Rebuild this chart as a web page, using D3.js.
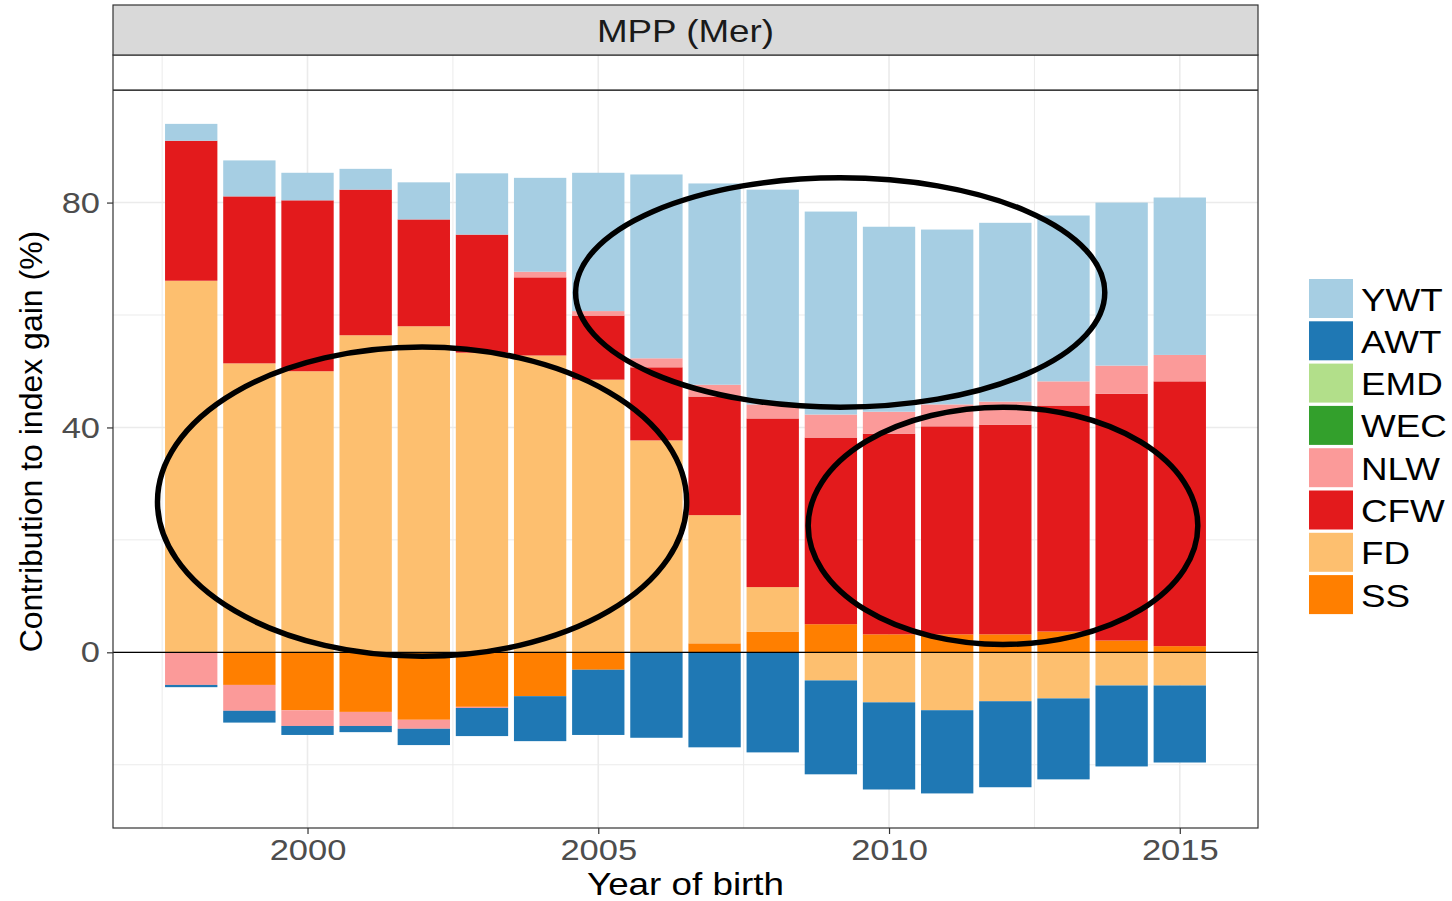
<!DOCTYPE html>
<html>
<head>
<meta charset="utf-8">
<script src="https://cdn.jsdelivr.net/npm/d3@7"></script>
<style>
  body { margin: 0; background: #fff; }
  text { font-family: "Liberation Sans", Arial, sans-serif; }
</style>
</head>
<body>
<svg id="chart" width="1452" height="901"></svg>
<script>
// data (contribution to index gain, %)
const years = [1998, 1999, 2000, 2001, 2002, 2003, 2004, 2005, 2006, 2007, 2008, 2009, 2010, 2011, 2012, 2013, 2014, 2015]
const traits = ["YWT", "AWT", "EMD", "WEC", "NLW", "CFW", "FD", "SS"]
const YWT = [3.0, 6.4, 4.9, 3.7, 6.6, 10.9, 16.7, 24.6, 32.7, 35.8, 38.2, 36.1, 32.9, 31.1, 31.8, 29.5, 29.0, 28.0]
const AWT = [-0.4, -2.1, -1.6, -1.1, -2.9, -5.0, -8.0, -11.6, -15.2, -16.9, -17.8, -16.7, -15.5, -14.8, -15.3, -14.4, -14.4, -13.7]
const EMD = [0, 0, 0, 0, 0, 0, 0, 0, 0, 0, 0, 0, 0, 0, 0, 0, 0, 0]
const WEC = [0, 0, 0, 0, 0, 0, 0, 0, 0, 0, 0, 0, 0, 0, 0, 0, 0, 0]
const NLW = [-5.8, -4.6, -2.8, -2.5, -1.6, -0.2, 1.0, 0.8, 1.6, 2.1, 2.5, 4.1, 3.9, 3.9, 4.1, 4.3, 5.0, 4.7]
const CFW = [24.9, 29.7, 30.4, 25.9, 19.0, 21.0, 13.9, 11.4, 13.0, 21.1, 30.0, 33.2, 35.7, 37.0, 37.3, 40.2, 43.9, 47.1]
const FD = [66.1, 51.4, 50.0, 56.4, 58.0, 53.3, 52.8, 48.5, 37.7, 22.8, 7.9, -5.0, -8.9, -10.3, -8.7, -8.2, -5.9, -5.9]
const SS = [0, -5.8, -10.3, -10.6, -12.0, -9.7, -7.8, -3.1, 0, 1.6, 3.7, 5.0, 3.2, 3.2, 3.2, 3.7, 2.1, 1.1]
const colors = ["#A6CEE3", "#1F78B4", "#B2DF8A", "#33A02C", "#FB9A99", "#E31A1C", "#FDBF6F", "#FF7F00"]
const xTicks = [2000, 2005, 2010, 2015]
const yTicks = [0, 40, 80]
const refLines = [0, 100]
// hand-drawn highlight ellipses: centre year, centre value, half width (years), half height (%)
const ellipses = [
    { cx: 2001.97, cy: 26.8, rx: 4.55, ry: 27.5 },
    { cx: 2009.16, cy: 64.0, rx: 4.55, ry: 20.4 },
    { cx: 2011.96, cy: 22.5, rx: 3.35, ry: 21.1 }
]

const series = { YWT, AWT, EMD, WEC, NLW, CFW, FD, SS }
const rows = years.map((yr, i) => {
    const r = { year: yr }
    traits.forEach(t => r[t] = series[t][i])
    return r
})

const svg = d3.select("#chart")
const pLeft = 113, pRight = 1258, pTop = 55, pBottom = 828
const stretch = 1.15  // the reference text is a bit wide

const x = d3.scaleLinear().domain([1996.655, 2016.345]).range([pLeft, pRight])
const y = d3.scaleLinear().domain([-31.25, 106.25]).range([pBottom, pTop])
const color = d3.scaleOrdinal().domain(traits).range(colors)

// grid
const grid = svg.append("g")
const minorX = [1997.5, 2002.5, 2007.5, 2012.5]
const minorY = [-20, 20, 60, 100]
grid.selectAll(".mx").data(minorX).enter().append("line")
    .attr("x1", d => x(d)).attr("x2", d => x(d)).attr("y1", pTop).attr("y2", pBottom)
    .attr("stroke", "#ebebeb").attr("stroke-width", 1)
grid.selectAll(".my").data(minorY).enter().append("line")
    .attr("y1", d => y(d)).attr("y2", d => y(d)).attr("x1", pLeft).attr("x2", pRight)
    .attr("stroke", "#ebebeb").attr("stroke-width", 1)
grid.selectAll(".Mx").data(xTicks).enter().append("line")
    .attr("x1", d => x(d)).attr("x2", d => x(d)).attr("y1", pTop).attr("y2", pBottom)
    .attr("stroke", "#ebebeb").attr("stroke-width", 1.6)
grid.selectAll(".My").data(yTicks).enter().append("line")
    .attr("y1", d => y(d)).attr("y2", d => y(d)).attr("x1", pLeft).attr("x2", pRight)
    .attr("stroke", "#ebebeb").attr("stroke-width", 1.6)

// stacked bars, SS nearest to zero, YWT furthest out
const stackKeys = traits.slice().reverse()
const stacked = d3.stack().keys(stackKeys).offset(d3.stackOffsetDiverging)(rows)
const bw = x(1998.45) - x(1997.55)

svg.append("g").selectAll("g")
    .data(stacked)
    .enter().append("g")
    .attr("fill", d => color(d.key))
    .selectAll("rect")
    .data(d => d)
    .enter().append("rect")
    .attr("x", d => x(d.data.year) - bw / 2)
    .attr("width", bw)
    .attr("y", d => y(Math.max(d[0], d[1])))
    .attr("height", d => Math.abs(y(d[0]) - y(d[1])))

// reference lines
svg.append("g").selectAll("line").data(refLines).enter().append("line")
    .attr("x1", pLeft).attr("x2", pRight)
    .attr("y1", d => y(d)).attr("y2", d => y(d))
    .attr("stroke", "#000").attr("stroke-width", 1.3)

// ellipses
svg.append("g").selectAll("ellipse").data(ellipses).enter().append("ellipse")
    .attr("cx", d => x(d.cx)).attr("cy", d => y(d.cy))
    .attr("rx", d => x(d.cx + d.rx) - x(d.cx))
    .attr("ry", d => y(d.cy - d.ry) - y(d.cy))
    .attr("fill", "none").attr("stroke", "#000").attr("stroke-width", 5.5)

// panel border
svg.append("rect")
    .attr("x", pLeft).attr("y", pTop).attr("width", pRight - pLeft).attr("height", pBottom - pTop)
    .attr("fill", "none").attr("stroke", "#333").attr("stroke-width", 1.2)

// facet strip
svg.append("rect")
    .attr("x", pLeft).attr("y", 5).attr("width", pRight - pLeft).attr("height", pTop - 5)
    .attr("fill", "#d9d9d9").attr("stroke", "#333").attr("stroke-width", 1.2)
svg.append("text")
    .attr("transform", `translate(${(pLeft + pRight) / 2},${30}) scale(${stretch},1)`)
    .attr("text-anchor", "middle").attr("dy", "0.36em")
    .attr("font-size", 32).attr("fill", "#1a1a1a")
    .text("MPP (Mer)")

// axes
const xAxis = svg.append("g")
    .attr("transform", `translate(0,${pBottom})`)
    .call(d3.axisBottom(x).tickValues(xTicks).tickFormat(d3.format("d")).tickSize(6).tickPadding(5))
xAxis.select(".domain").remove()
xAxis.selectAll(".tick line").attr("stroke", "#333").attr("stroke-width", 1.2)
xAxis.selectAll(".tick text")
    .attr("font-size", 30).attr("fill", "#4d4d4d")
    .attr("transform", `scale(${stretch},1)`)

const yAxis = svg.append("g")
    .attr("transform", `translate(${pLeft},0)`)
    .call(d3.axisLeft(y).tickValues(yTicks).tickSize(6).tickPadding(7))
yAxis.select(".domain").remove()
yAxis.selectAll(".tick line").attr("stroke", "#333").attr("stroke-width", 1.2)
yAxis.selectAll(".tick text")
    .attr("font-size", 30).attr("fill", "#4d4d4d")
    .attr("x", -13 / stretch)
    .attr("transform", `scale(${stretch},1)`)

// axis titles
svg.append("text")
    .attr("transform", `translate(${(pLeft + pRight) / 2},${884}) scale(${stretch},1)`)
    .attr("text-anchor", "middle").attr("dy", "0.34em")
    .attr("font-size", 32).attr("fill", "#000")
    .text("Year of birth")
svg.append("text")
    .attr("transform", `translate(${30},${(pTop + pBottom) / 2}) rotate(-90)`)
    .attr("text-anchor", "middle").attr("dy", "0.36em")
    .attr("font-size", 32).attr("fill", "#000")
    .text("Contribution to index gain (%)")

// legend
const legend = svg.append("g").attr("transform", "translate(1309,279)")
const item = legend.selectAll("g").data(traits).enter().append("g")
    .attr("transform", (d, i) => `translate(0,${i * 42.3})`)
item.append("rect")
    .attr("width", 44).attr("height", 39)
    .attr("fill", d => color(d))
item.append("text")
    .attr("transform", `translate(52,20) scale(${stretch},1)`)
    .attr("dy", "0.36em")
    .attr("font-size", 32).attr("fill", "#000")
    .text(d => d)
</script>
</body>
</html>
